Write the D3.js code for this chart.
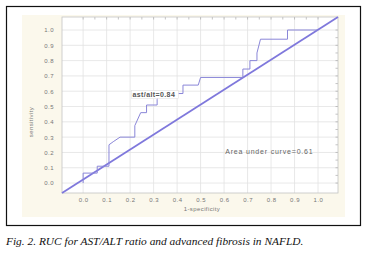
<!DOCTYPE html>
<html>
<head>
<meta charset="utf-8">
<script src="https://cdn.jsdelivr.net/npm/d3@7"></script>
<style>
  body { margin: 0; background: #fff; }
  svg { display: block; }
  .tick text { font-family: "Liberation Sans", Arial, sans-serif; font-size: 6px; fill: #777; letter-spacing: 0.5px; }
</style>
</head>
<body>
<div id="chart"></div>
<script>
// ROC curve: 1-specificity (fpr) vs sensitivity (tpr)
const fpr = [0, 0, 0.06, 0.06, 0.11, 0.11, 0.128, 0.157, 0.22, 0.22, 0.245, 0.27, 0.27, 0.315, 0.315, 0.322,
  0.425, 0.425, 0.49, 0.50, 0.68, 0.68, 0.71, 0.71, 0.74, 0.74, 0.755, 0.87, 0.87, 1.0];
const tpr = [0, 0.065, 0.065, 0.11, 0.11, 0.25, 0.27, 0.30, 0.30, 0.375, 0.46, 0.46, 0.51, 0.51, 0.545, 0.585,
  0.585, 0.64, 0.64, 0.69, 0.69, 0.745, 0.745, 0.80, 0.80, 0.85, 0.94, 0.94, 1.0, 1.0];
const ticks = [0, 0.1, 0.2, 0.3, 0.4, 0.5, 0.6, 0.7, 0.8, 0.9, 1.0];
const xLabel = '1-specificity';
const yLabel = 'sensitivity';
const curveLabel = 'ast/alt=0.84';
const aucLabel = 'Area under curve=0.61';
const caption = 'Fig. 2. RUC for AST/ALT ratio and advanced fibrosis in NAFLD.';

const width = 369, height = 254;
const svg = d3.select('#chart').append('svg')
  .attr('width', width)
  .attr('height', height);

// outer frame + cream panel
svg.append('rect')
  .attr('x', 6.5).attr('y', 6.5)
  .attr('width', 354).attr('height', 219)
  .attr('fill', '#fff')
  .attr('stroke', '#111')
  .attr('stroke-width', 1.2);

svg.append('rect')
  .attr('x', 22).attr('y', 15)
  .attr('width', 323).attr('height', 202)
  .attr('fill', '#fbf8ec');

const xScale = d3.scaleLinear().domain([-0.09, 1.085]).range([62, 338]);
const yScale = d3.scaleLinear().domain([-0.065, 1.085]).range([193, 17]);

// plot area
svg.append('rect')
  .attr('x', 62).attr('y', 17)
  .attr('width', 276).attr('height', 176)
  .attr('fill', '#fff');

// grid
svg.append('g').selectAll('line').data(ticks).join('line')
  .attr('x1', d => xScale(d)).attr('x2', d => xScale(d))
  .attr('y1', 17).attr('y2', 193)
  .attr('stroke', '#e2e2e2').attr('stroke-width', 0.8);
svg.append('g').selectAll('line').data(ticks).join('line')
  .attr('y1', d => yScale(d)).attr('y2', d => yScale(d))
  .attr('x1', 62).attr('x2', 338)
  .attr('stroke', '#e2e2e2').attr('stroke-width', 0.8);

// minor ticks on top and right edges
const minor = d3.range(0, 21).map(i => i * 0.05);
svg.append('g').selectAll('line').data(minor).join('line')
  .attr('x1', d => xScale(d)).attr('x2', d => xScale(d))
  .attr('y1', 17).attr('y2', 19.5)
  .attr('stroke', '#aaa').attr('stroke-width', 0.7);
svg.append('g').selectAll('line').data(minor).join('line')
  .attr('y1', d => yScale(d)).attr('y2', d => yScale(d))
  .attr('x1', 338).attr('x2', 335.5)
  .attr('stroke', '#aaa').attr('stroke-width', 0.7);

svg.append('rect')
  .attr('x', 62).attr('y', 17)
  .attr('width', 276).attr('height', 176)
  .attr('fill', 'none')
  .attr('stroke', '#c4c4c4').attr('stroke-width', 0.8);

// axes (labels only)
const xAxis = d3.axisBottom(xScale)
  .tickValues(ticks)
  .tickSize(0)
  .tickPadding(5)
  .tickFormat(d3.format('.1f'));
const yAxis = d3.axisLeft(yScale)
  .tickValues(ticks)
  .tickSize(0)
  .tickPadding(8)
  .tickFormat(d3.format('.1f'));

const xAxisG = svg.append('g')
  .attr('transform', 'translate(0,193)')
  .call(xAxis);
xAxisG.select('.domain').remove();

const yAxisG = svg.append('g')
  .attr('transform', 'translate(62,0)')
  .call(yAxis);
yAxisG.select('.domain').remove();

svg.append('text')
  .attr('x', 202).attr('y', 211)
  .attr('text-anchor', 'middle')
  .style('font-family', '"Liberation Sans", Arial, sans-serif')
  .style('font-size', '6px')
  .style('letter-spacing', '0.4px')
  .attr('fill', '#777')
  .text(xLabel);

svg.append('text')
  .attr('transform', 'translate(33,122) rotate(-90)')
  .attr('text-anchor', 'middle')
  .style('font-family', '"Liberation Sans", Arial, sans-serif')
  .style('font-size', '6px')
  .style('letter-spacing', '0.4px')
  .attr('fill', '#777')
  .text(yLabel);

// diagonal reference line
const xd = xScale.domain(), yd = yScale.domain();
svg.append('line')
  .attr('x1', xScale(xd[0])).attr('y1', yScale(yd[0]))
  .attr('x2', xScale(xd[1])).attr('y2', yScale(yd[1]))
  .attr('stroke', '#7f78dc')
  .attr('stroke-width', 1.8);

// ROC step curve
const rocLine = d3.line()
  .x(d => xScale(d[0]))
  .y(d => yScale(d[1]));
svg.append('path')
  .datum(fpr.map((f, i) => [f, tpr[i]]))
  .attr('fill', 'none')
  .attr('stroke', '#8a86d8')
  .attr('stroke-width', 1)
  .attr('d', rocLine);

// labels
const lab = svg.append('g').attr('transform', 'translate(' + xScale(0.21) + ',' + yScale(0.565) + ')');
lab.append('rect')
  .attr('x', -1).attr('y', -6)
  .attr('width', 47).attr('height', 8)
  .attr('fill', '#fff')
  .attr('stroke', '#ddd').attr('stroke-width', 0.5);
lab.append('text')
  .attr('x', 0).attr('y', 0)
  .style('font-family', '"Liberation Sans", Arial, sans-serif')
  .style('font-size', '7px')
  .style('font-weight', 'bold')
  .style('letter-spacing', '0.4px')
  .attr('fill', '#555')
  .text(curveLabel);

svg.append('text')
  .attr('x', xScale(0.605)).attr('y', yScale(0.19))
  .style('font-family', '"Liberation Sans", Arial, sans-serif')
  .style('font-size', '7px')
  .style('letter-spacing', '0.8px')
  .attr('fill', '#666')
  .text(aucLabel);

// caption
svg.append('text')
  .attr('x', 6).attr('y', 245)
  .style('font-family', '"Liberation Serif", "Times New Roman", serif')
  .style('font-style', 'italic')
  .style('font-size', '11.4px')
  .attr('fill', '#111')
  .text(caption);
</script>
</body>
</html>
